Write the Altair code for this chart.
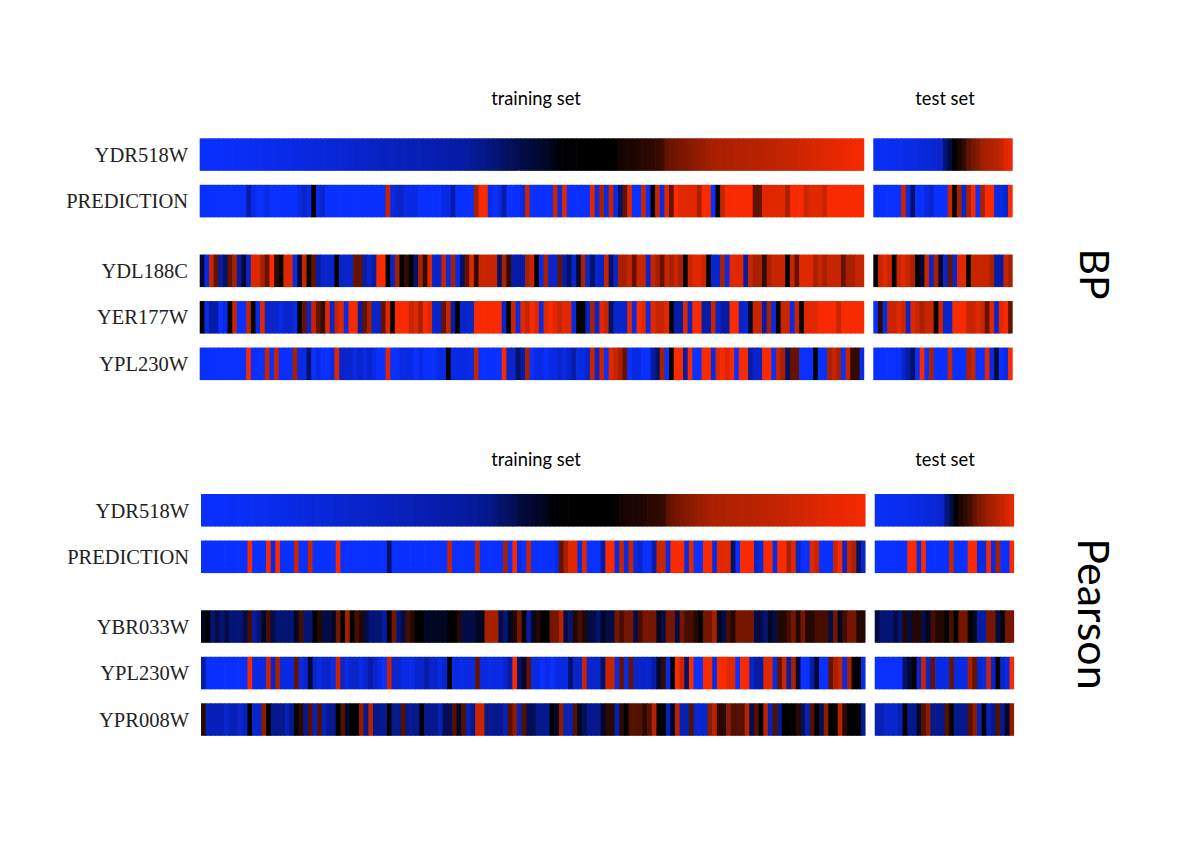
import altair as alt
import pandas as pd

alt.data_transformers.disable_max_rows()

# levels: A..F blue to near black, K black, f..a near black to red
LEVELS = {"A": -1.0, "B": -0.85, "C": -0.7, "D": -0.5, "E": -0.3, "F": -0.15, "K": 0.0,
          "f": 0.15, "e": 0.3, "d": 0.5, "c": 0.7, "b": 0.85, "a": 1.0}

bp_gradient_train = [
    -100, -100, -99, -98, -98, -97, -96, -96, -95, -94,
    -93, -92, -92, -91, -90, -90, -89, -88, -87, -86,
    -85, -84, -83, -82, -81, -80, -79, -78, -77, -76,
    -75, -74, -73, -72, -71, -70, -69, -68, -67, -66,
    -65, -64, -63, -62, -61, -60, -60, -59, -58, -57,
    -56, -55, -54, -53, -52, -51, -50, -48, -46, -44,
    -42, -40, -38, -36, -34, -30, -28, -26, -24, -22,
    -20, -18, -16, -14, -12, -8, -5, -2, -1, -1,
    -1, 0, -1, 0, 0, -1, 0, 0, 0, 1,
    6, 7, 8, 9, 10, 12, 13, 14, 16, 18,
    30, 32, 34, 36, 38, 40, 42, 44, 46, 48,
    50, 51, 52, 53, 54, 55, 56, 57, 58, 59,
    60, 62, 63, 65, 66, 68, 70, 71, 72, 74,
    76, 78, 80, 82, 84, 86, 88, 90, 92, 93,
    95, 97, 98]
bp_gradient_test = [
    -96, -95, -94, -93, -92, -90, -88, -87, -86, -84,
    -82, -80, -78, -74, -70, -35, -20, 0, 8, 15,
    28, 35, 40, 48, 52, 55, 60, 66, 85, 90]
pe_gradient_train = [
    -100, -99, -99, -98, -97, -97, -96, -95, -95, -94,
    -93, -92, -91, -91, -90, -89, -88, -87, -86, -85,
    -84, -83, -82, -81, -80, -79, -78, -77, -76, -75,
    -74, -73, -72, -71, -70, -69, -68, -67, -66, -65,
    -64, -63, -62, -61, -60, -59, -58, -57, -56, -55,
    -54, -53, -52, -51, -50, -49, -48, -47, -46, -45,
    -44, -42, -40, -38, -32, -30, -28, -26, -20, -18,
    -16, -14, -12, -10, -7, -3, -2, -1, -1, 0,
    0, 0, 0, 0, 0, 0, 0, 0, 0, 2,
    6, 7, 8, 8, 9, 10, 12, 13, 14, 16,
    28, 32, 35, 38, 40, 42, 44, 46, 48, 50,
    52, 53, 54, 55, 56, 57, 58, 59, 60, 62,
    63, 64, 65, 66, 68, 70, 72, 73, 75, 77,
    79, 81, 83, 85, 87, 88, 90, 91, 92, 93,
    95, 96, 97]
pe_gradient_test = [
    -96, -95, -94, -93, -92, -91, -90, -88, -87, -85,
    -83, -81, -79, -76, -72, -38, -20, 0, 10, 15,
    20, 30, 38, 42, 48, 52, 60, 68, 78, 88]

bp_pred_train = ("AAAAAAAAAA DBAABAAAAA ABCBKBCAAA AAAAAAAAAA cBCCBBBAAA AABBDAAAAd aaBABDAAAB "
                 "cAAAAAcBbA AAAAbBdBcB EebAAcAKcB beabbbbdaa AKcaaaaaae ebbbbbdaaa cbbbcaaaaa aaa")
bp_pred_test = "AAAAAAcBEA ABCAAAcKdC daAdaaBBCa"
ydl188c_train = ("FBceDEedDF CbbdeafKbb BFcKeDCCCK CCCeeDCDaa KCdKfKEdfb CCcBdBEebf ccccEdfDDD "
                 "dcKBdCCeDE CFdCECCcEC ddceccCcde cdcdKcbbcK CCdBbbbDcd dfdcccKceb bbdcdccced dcc")
ydl188c_test = "KcbcKcbcdK FcCdFCeCbb KccccdDDcd"
yer177w_train = ("KBDDABKcAA cKBbCCCBCC BKeCcefbCc bBaaDedCCe bKaaacbdab CCecDKCCCa aaaaaCKcBb "
                 "cabBbabcbb BKKCdCbcEC CCbBabBbcc bKDDbCaaDD cCDDaaCCFc cDdBKccBcK bbbaaaacaa aaa")
yer177w_test = "AfBccbcCbc dccKcCCaaa ccbcebCbae"
bp_ypl230w_train = ("AAAAAAAAAA aAAAcAcAAA dBBEABAABb CCCBCBCBAA bAABBBABAA ABBKBBBBBc AAAAAaCCED "
                    "dABBABBCBC DBBCcCcAbc deABBAADEd AKaaDaAAaa BbabaAaaDC CaaAcdEeeA AAKAAdcdAc ffB")
bp_ypl230w_test = "AAAAAACDEA aAdAAAcAAA dcAAbBFABa"

pe_pred_train = ("AAAAAAAAAA aAAAaBaAAA cAAcAAAAAa AAAAAAAAAA EAAAAAAAAA AAAcAAAAAc AAAAAdAaBA "
                 "cAAAAABedb bBbAAADaaB cBcBCAADcc BaaaBbAAaa BbbbEAaaaC BaaBaadbCA AbcAAAcaCc dEC")
pe_pred_test = "AAAAAAAaaB aAAAAAcAAA aaBBaBdAAa"
ybr033w_train = ("FKDEDEDDDE eCDFeEDDDD FeDDKfEEFd KcKefEDDDC KdDEefKKFF FFFKKfEEEF FcccEDFfdK "
                 "CFfKKddbED fefEEDFEEd eddEedddFE ddEdeefKdd cFEefddddE EDFEffedfd ffeeeEdFed dff")
ybr033w_test = "EDDDEDfEff EFeffKeKdd KFCCddEKdd"
pe_ypl230w_train = ("DAAAAAAAAA aBBBcCdBBB eBCFCBCCBc CBCCBCDCBA cCCBBBCCDC CBCKBBBBBe BBBBBCDaEF "
                    "eBBABABBBE CCcCCCEccB eBeCCCCDFf BKacEaAAaa BaabbAaaCD DbbBecDdFA ADFAAedcBd KKB")
pe_ypl230w_test = "AAAAAAEFKC cCeBBBeBBB deCBcCKCBa"
ypr008w_train = ("fCCCCBCCBC KBBdKDDDCD KfDeCeCDDK eFKKdDcDDD KDDeDDDKDD DCEEeFeCDb bDDDDCedCe "
                 "EEDDDKFdCC eFEDDDFffC fKeeefecKK CFcCCeBBBd cffdeeecEe KcCeDKKKfE CeKEdKKcfK KKD")
ypr008w_test = "CCBBBCKDDF edDDDeKDDD edCKCDeDFd"


def levels(s, strength=1.0):
    # strength: these two rows read darker overall than the shared letter levels
    return [LEVELS[c] * strength for c in s.replace(" ", "")]


def pct(v):
    return [x / 100 for x in v]


# page geometry expressed in scale units: one cell wide, one row slot tall
CELL_PX = 4.647
SLOT_PX = 46.5
ROW_H = 0.7
OVERLAP = 0.15  # closes the hairline seams between neighbouring cells
W, H = 1184, 833
X0 = (199.7 - 8) / CELL_PX
Y0 = (138.3 - 8) / SLOT_PX

groups = [
    {"xtrain": 0.0, "xtest": 144.95, "rows": [
        (0.0, pct(bp_gradient_train), pct(bp_gradient_test)),
        (1.0, levels(bp_pred_train), levels(bp_pred_test)),
        (2.5, levels(ydl188c_train), levels(ydl188c_test)),
        (3.5, levels(yer177w_train), levels(yer177w_test)),
        (4.5, levels(bp_ypl230w_train), levels(bp_ypl230w_test))]},
    {"xtrain": 0.28, "xtest": 145.26, "rows": [
        (7.65, pct(pe_gradient_train), pct(pe_gradient_test)),
        (8.65, levels(pe_pred_train), levels(pe_pred_test)),
        (10.15, levels(ybr033w_train, 0.7), levels(ybr033w_test, 0.7)),
        (11.15, levels(pe_ypl230w_train), levels(pe_ypl230w_test)),
        (12.15, levels(ypr008w_train, 0.85), levels(ypr008w_test, 0.85))]},
]

recs = []
for g in groups:
    for slot, train, test in g["rows"]:
        assert len(train) == 143 and len(test) == 30, (slot, len(train), len(test))
        for start, vals in ((g["xtrain"], train), (g["xtest"], test)):
            for i, v in enumerate(vals):
                extra = OVERLAP if i < len(vals) - 1 else 0
                recs.append({"x": start + i, "x2": start + i + 1 + extra, "y": slot, "y2": slot + ROW_H, "v": v})
df = pd.DataFrame(recs)

xscale = alt.Scale(domain=[-X0, (W / CELL_PX) - X0], nice=False, zero=False)
yscale = alt.Scale(domain=[H / SLOT_PX - Y0, -Y0], nice=False, zero=False)

cells = alt.Chart(df).mark_rect(strokeWidth=0).encode(
    x=alt.X("x:Q", scale=xscale, axis=None),
    x2="x2:Q",
    y=alt.Y("y:Q", scale=yscale, axis=None),
    y2="y2:Q",
    color=alt.Color("v:Q", legend=None,
                    scale=alt.Scale(domain=[-1, -0.5, 0, 0.5, 1],
                                    range=["#0a30ff", "#061ca6", "#000000", "#a82000", "#f92a00"],
                                    interpolate="rgb")),
)

dummy = pd.DataFrame({"a": [0]})


def text(label, px, py, size, font, color="#000000", align="center", angle=0):
    return alt.Chart(dummy).mark_text(text=label, fontSize=size, font=font, color=color, align=align,
                                      baseline="middle", angle=angle).encode(
        x=alt.value(px - 8), y=alt.value(py - 8))


SERIF = "Liberation Serif"
SANS = "Lato"
layers = [cells]
for lab, py in [("YDR518W", 156), ("PREDICTION", 202), ("YDL188C", 272), ("YER177W", 318), ("YPL230W", 365)]:
    layers.append(text(lab, 188, py, 20.5, SERIF, "#222222", "right"))
for lab, py in [("YDR518W", 512), ("PREDICTION", 558), ("YBR033W", 628), ("YPL230W", 674), ("YPR008W", 721)]:
    layers.append(text(lab, 189, py, 20.5, SERIF, "#222222", "right"))
for py in (99.5, 460.5):
    layers.append(text("training set", 536, py, 18.3, SANS))
    layers.append(text("test set", 945, py, 18.3, SANS))
layers.append(text("BP", 1092, 274, 41, SANS, angle=90))
layers.append(text("Pearson", 1091, 614, 43, SANS, angle=90))

chart = alt.layer(*layers).properties(
    width=W, height=H, padding=0, autosize=alt.AutoSizeParams(type="none"),
    background="white",
).configure_view(stroke=None)

chart.save("out.html", embed_options={"renderer": "svg", "actions": False})
